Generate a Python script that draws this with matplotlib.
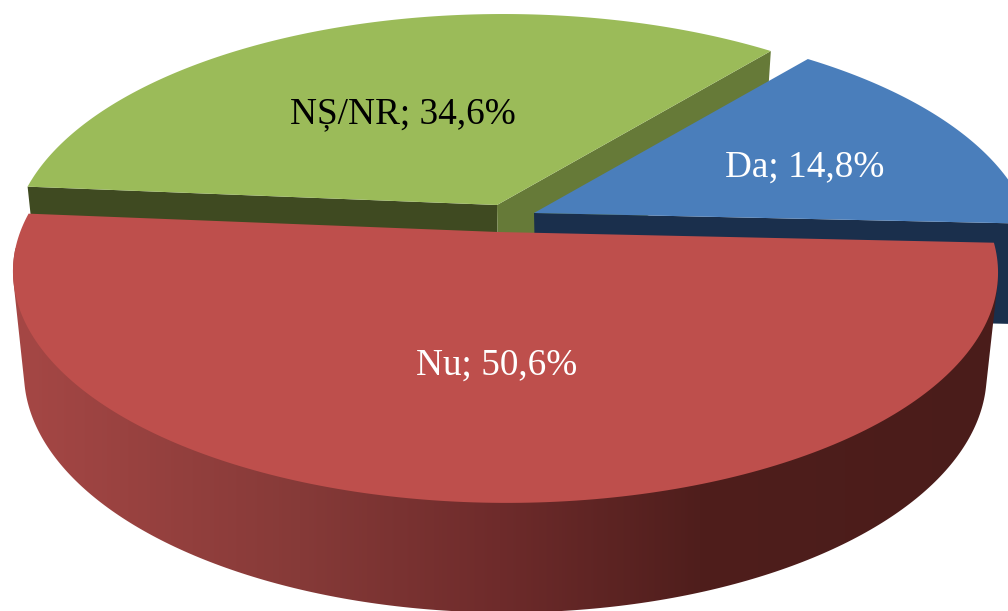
"""Exploded 3D-looking pie, drawn by hand because matplotlib has no perspective pie."""

import matplotlib

matplotlib.use("Agg")
import matplotlib.pyplot as plt
import numpy as np
from matplotlib.colors import to_rgb
from matplotlib.patches import Polygon

labels = ["Da", "Nu", "NȘ/NR"]
values = [14.8, 50.6, 34.6]

# picture layout, pixels
WIDTH, HEIGHT = 1008, 611
START_DEG = -50.6  # where the first slice begins, clockwise on screen
RX, RY = 485.0, 224.0
KY, KX = 0.173, 0.015  # perspective strength
DEPTH = 100.0
RX_LOW, RY_LOW = 474.0, 232.0

APEX = {"Da": (534, 213), "Nu": (498, 232), "NȘ/NR": (497, 205)}
TOP = {"Da": "#4a7ebb", "Nu": "#be4f4c", "NȘ/NR": "#9bbb59"}
LABEL_POS = {"Da": (805, 167), "Nu": (497, 365), "NȘ/NR": (403, 114)}
LABEL_COLOR = {"Da": "white", "Nu": "white", "NȘ/NR": "black"}


def project(apex, deg, low=False):
    t = np.radians(deg)
    u, v = np.cos(t), np.sin(t)
    w = 1 - KY * v - KX * u
    rx, ry = (RX_LOW, RY_LOW) if low else (RX, RY)
    dy = DEPTH if low else 0.0
    return np.column_stack([apex[0] + rx * u / w, apex[1] + dy + ry * v / w])


def wedge(apex, a0, a1):
    rim = project(apex, np.linspace(a0, a1, 200))
    return np.vstack([apex, rim])


def cut_face(ax, apex, deg, color, zorder):
    top = project(apex, np.array([deg]))[0]
    low = project(apex, np.array([deg]), low=True)[0]
    low_apex = (apex[0] + 2, apex[1] + DEPTH)
    ax.fill(
        [apex[0], top[0], low[0], low_apex[0]],
        [apex[1], top[1], low[1], low_apex[1]],
        color=color,
        lw=0,
        zorder=zorder,
    )


def convex_hull(pts):
    pts = sorted(map(tuple, pts))

    def half(seq):
        out = []
        for p in seq:
            while len(out) > 1:
                a, b = out[-2], out[-1]
                if (b[0] - a[0]) * (p[1] - a[1]) - (b[1] - a[1]) * (p[0] - a[0]) > 0:
                    break
                out.pop()
            out.append(p)
        return out[:-1]

    return np.array(half(pts) + half(pts[::-1]))


def red_rim(ax, apex, a0, a1, zorder):
    # gradient image clipped to the outline of the side, so no seams show
    stops_x = [20, 300, 500, 700, 990]
    stops = [to_rgb(c) for c in ["#a54745", "#863a38", "#6e2b2b", "#4f1e1c", "#4a1c1a"]]
    xs = np.arange(WIDTH)
    grad = np.column_stack([np.interp(xs, stops_x, [s[i] for s in stops]) for i in range(3)])
    im = ax.imshow(
        grad[None, :, :],
        extent=(0, WIDTH, HEIGHT, 0),
        aspect="auto",
        interpolation="bilinear",
        zorder=zorder,
    )

    # stay off the corners, otherwise the hull pokes out above the flat edge of the top
    degs = np.linspace(a0 + 9, a1 - 9, 240)
    hull = convex_hull(np.vstack([project(apex, degs), project(apex, degs, low=True)]))
    clip = Polygon(hull, closed=True, transform=ax.transData)
    im.set_clip_path(clip)


angles = np.cumsum([0.0] + [v / sum(values) * 360 for v in values]) + START_DEG
span = {name: (angles[i], angles[i + 1]) for i, name in enumerate(labels)}

fig = plt.figure(figsize=(WIDTH / 100, HEIGHT / 100), dpi=100, facecolor="white")
ax = fig.add_axes([0, 0, 1, 1])
ax.axis("off")

# back to front: green, blue, red
cut_face(ax, APEX["NȘ/NR"], span["NȘ/NR"][0], "#3f4a21", 1)
cut_face(ax, APEX["NȘ/NR"], span["NȘ/NR"][1], "#667a38", 1)
ax.fill(*wedge(APEX["NȘ/NR"], *span["NȘ/NR"]).T, color=TOP["NȘ/NR"], lw=0, zorder=2)

cut_face(ax, APEX["Da"], span["Da"][1], "#1a2f4c", 3)
ax.fill(*wedge(APEX["Da"], *span["Da"]).T, color=TOP["Da"], lw=0, zorder=4)

red_rim(ax, APEX["Nu"], *span["Nu"], 5)
ax.fill(*wedge(APEX["Nu"], *span["Nu"]).T, color=TOP["Nu"], lw=0, zorder=6)

for name, value in zip(labels, values):
    text = f"{name}; {value:.1f}%".replace(".", ",")
    ax.text(
        *LABEL_POS[name],
        text,
        ha="center",
        va="center",
        fontsize=26.8,
        family="Liberation Serif",
        color=LABEL_COLOR[name],
        zorder=8,
    )

ax.set_xlim(0, WIDTH)
ax.set_ylim(HEIGHT, 0)

fig.savefig("out.png", dpi=100, facecolor="white")
plt.close(fig)
